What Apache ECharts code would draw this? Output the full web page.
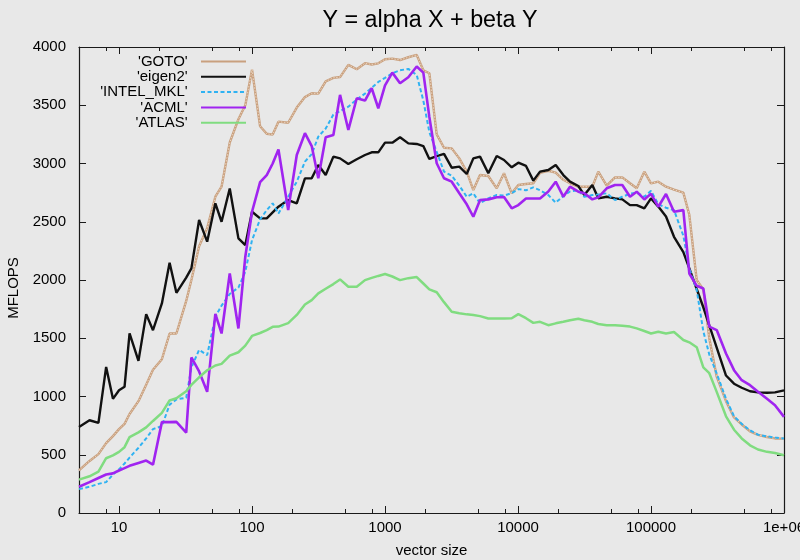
<!DOCTYPE html>
<html><head><meta charset="utf-8">
<script src="https://cdn.jsdelivr.net/npm/echarts@6/dist/echarts.min.js"></script>
<style>html,body{margin:0;padding:0;background:#e8e8e8}#c{width:800px;height:560px}</style>
</head><body><div id="c"></div>
<script>
const sizes = [5,6,7,8,9,10,11,12,14,16,18,21,24,27,32,35,40,46,53,59,68,79,89,100,115,129,143,158,187,217,250,281,315,358,409,459,530,613,707,794,890,1000,1135,1297,1497,1731,1941,2154,2447,2777,3173,3619,4115,4613,5180,5979,6916,7847,8968,10053,11486,13032,14637,16896,19206,21910,24604,28406,31516,36197,40163,46451,53621,60844,69530,78070,89048,100000,113470,129650,148910,175030,194100,220580,247310,274350,311890,366380,420950,480840,555140,637560,745130,855590,1000000];

const gotoVals = [366,447,505,600,660,720,765,850,960,1100,1230,1320,1541,1541,1820,2000,2290,2445,2715,2801,3180,3380,3500,3806,3320,3255,3248,3359,3350,3480,3570,3603,3600,3705,3735,3742,3846,3809,3861,3850,3860,3895,3900,3888,3912,3932,3800,3775,3250,3135,3130,3044,2930,2772,2901,2893,2787,2916,2744,2815,2824,2830,2920,2938,2921,2860,2830,2801,2801,2801,2930,2810,2880,2881,2830,2787,2930,2830,2844,2801,2775,2750,2560,2000,1920,1500,1170,960,820,760,700,670,652,640,638];

const eigen2Vals = [739,796,773,1254,980,1054,1083,1541,1306,1707,1569,1799,2148,1890,2020,2100,2515,2329,2658,2500,2786,2357,2300,2586,2529,2529,2580,2629,2686,2658,2872,2873,2987,2901,3059,3044,2996,3036,3073,3096,3096,3179,3179,3225,3173,3168,3150,3039,3064,3082,2964,2973,2910,3044,3059,2916,3064,3030,2967,3007,2979,2853,2930,2944,2987,2901,2844,2807,2729,2816,2701,2715,2701,2692,2643,2643,2615,2701,2630,2545,2371,2240,2100,1923,1766,1610,1420,1180,1110,1075,1045,1035,1032,1035,1052];

const mklVals = [205,225,250,265,330,375,425,475,560,640,720,745,930,975,990,1250,1400,1355,1684,1780,1880,1935,2071,2343,2520,2600,2658,2570,2715,2844,3016,3080,3231,3300,3420,3450,3488,3550,3600,3650,3700,3735,3775,3800,3812,3760,3540,3270,3100,2930,2895,2810,2715,2744,2658,2701,2730,2725,2745,2780,2770,2795,2770,2729,2664,2720,2760,2770,2715,2729,2735,2744,2686,2715,2740,2750,2715,2765,2650,2620,2600,2380,2100,1915,1560,1360,1197,980,830,765,710,672,658,648,639];

const acmlVals = [225,265,300,330,340,365,385,405,430,450,415,780,780,782,690,1335,1215,1040,1710,1541,2056,1584,2200,2586,2840,2901,3000,3120,2601,3073,3260,3150,2873,3225,3245,3589,3288,3560,3540,3646,3474,3670,3780,3689,3740,3832,3780,3400,3002,2873,2844,2744,2650,2543,2686,2692,2710,2712,2615,2643,2700,2700,2700,2760,2844,2715,2801,2758,2744,2692,2710,2787,2815,2815,2715,2758,2692,2740,2629,2738,2586,2600,2056,1950,1927,1600,1570,1369,1226,1140,1097,1040,980,925,825];

const atlasVals = [286,315,355,470,494,525,565,651,692,735,790,860,966,985,1045,1100,1165,1225,1266,1280,1351,1380,1437,1520,1545,1570,1598,1600,1630,1700,1790,1827,1885,1925,1965,2005,1942,1942,1999,2018,2035,2051,2030,1999,2016,2025,1970,1920,1895,1810,1727,1715,1705,1700,1690,1670,1670,1670,1672,1707,1672,1632,1641,1612,1628,1641,1655,1668,1655,1641,1622,1612,1612,1608,1600,1585,1562,1541,1555,1541,1553,1485,1465,1423,1250,1200,1040,830,715,640,581,545,525,515,495];

const seriesNames = ["'GOTO'", "'eigen2'", "'INTEL_MKL'", "'ACML'", "'ATLAS'"];
const xMajorTicks = [10, 100, 1000, 10000, 100000, 1000000];
const xMinorTicks = [8, 20, 50, 80, 200, 500, 800, 2000, 5000, 8000, 20000, 50000, 80000, 200000, 500000, 800000];

const FONT = '"Liberation Sans", Arial, Helvetica, sans-serif';
function pairs(vals) { return sizes.map((s, i) => [s, vals[i]]); }
function xFmt(v) { const r = Math.round(v); return r === 1000000 ? '1e+06' : String(r); }

const AXC = '#1a1a1a';
function xAxisDef(pos, ticks, len, showLine, showLabel) {
  return {
    type: 'log', logBase: 10, min: 5, max: 1000000, gridIndex: 0, position: pos,
    axisLine: { show: showLine, lineStyle: { color: AXC, width: 1.2 } },
    axisTick: { show: true, inside: true, length: len, customValues: ticks, lineStyle: { color: AXC, width: 1 } },
    axisLabel: showLabel ? { show: true, customValues: xMajorTicks, formatter: xFmt, color: '#000', fontSize: 15, fontFamily: FONT, margin: 7 } : { show: false },
    splitLine: { show: false }, minorTick: { show: false }
  };
}

const chart = echarts.init(document.getElementById('c'), null, { renderer: 'canvas' });
const lineBase = { type: 'line', symbol: 'none', showSymbol: false, xAxisIndex: 0, yAxisIndex: 0, animation: false, silent: true, clip: true };

const option = {
  backgroundColor: '#e8e8e8',
  animation: false,
  textStyle: { fontFamily: FONT },
  title: {
    text: 'Y = alpha X + beta Y', left: 425, top: 4, textAlign: 'center',
    textStyle: { fontSize: 23.3, fontWeight: 'normal', color: '#000', fontFamily: FONT }
  },
  graphic: [{
    type: 'text', x: 14, y: 288, rotation: Math.PI / 2, silent: true,
    style: { text: 'MFLOPS', align: 'center', verticalAlign: 'middle', fill: '#000', font: '15px ' + FONT }
  }],
  grid: { left: 79, right: 16, top: 47, bottom: 47, containLabel: false, outerBoundsMode: 'none' },
  legend: {
    data: seriesNames, orient: 'vertical', right: 553, top: 54, align: 'right',
    itemWidth: 45, itemHeight: 10, itemGap: 0.3, padding: 0, selectedMode: false,
    formatter: n => n + '  ',
    itemStyle: { opacity: 0 },
    textStyle: { fontSize: 15, color: '#000', fontFamily: FONT, lineHeight: 15 }
  },
  xAxis: [
    Object.assign(xAxisDef('bottom', xMajorTicks, 7, true, true), {
      name: 'vector size', nameLocation: 'middle', nameGap: 30,
      nameTextStyle: { fontSize: 15, color: '#000', fontFamily: FONT }
    }),
    xAxisDef('bottom', xMinorTicks, 4, false, false),
    xAxisDef('top', xMajorTicks, 7, true, false),
    xAxisDef('top', xMinorTicks, 4, false, false)
  ],
  yAxis: [
    {
      type: 'value', min: 0, max: 4000, interval: 500, position: 'left',
      axisLine: { show: true, lineStyle: { color: AXC, width: 1.2 } },
      axisTick: { show: true, inside: true, length: 7, lineStyle: { color: AXC } },
      axisLabel: { color: '#000', fontSize: 15, fontFamily: FONT, margin: 13, formatter: v => String(v) },
      splitLine: { show: false }
    },
    {
      type: 'value', min: 0, max: 4000, interval: 500, position: 'right',
      axisLine: { show: true, lineStyle: { color: AXC, width: 1.2 } },
      axisTick: { show: true, inside: true, length: 7, lineStyle: { color: AXC } },
      axisLabel: { show: false }, splitLine: { show: false }
    }
  ],
  series: [
    Object.assign({}, lineBase, { name: seriesNames[0], data: pairs(gotoVals), z: 2,
      lineStyle: { color: '#c9a07e', width: 2.4 }, itemStyle: { color: '#c9a07e' } }),
    Object.assign({}, lineBase, { name: 'goto-core', data: pairs(gotoVals), z: 3,
      lineStyle: { color: '#f2e2d2', width: 0.8, type: [1.5, 1.5] }, itemStyle: { color: '#f2e2d2' } }),
    Object.assign({}, lineBase, { name: seriesNames[1], data: pairs(eigen2Vals), z: 4,
      lineStyle: { color: '#111111', width: 2.4 }, itemStyle: { color: '#111111' } }),
    Object.assign({}, lineBase, { name: seriesNames[2], data: pairs(mklVals), z: 5,
      lineStyle: { color: '#2fb2f2', width: 2, type: [4, 2.5] }, itemStyle: { color: '#2fb2f2' } }),
    Object.assign({}, lineBase, { name: seriesNames[3], data: pairs(acmlVals), z: 6,
      lineStyle: { color: '#a024f0', width: 2.6 }, itemStyle: { color: '#a024f0' } }),
    Object.assign({}, lineBase, { name: seriesNames[4], data: pairs(atlasVals), z: 7,
      lineStyle: { color: '#80dc80', width: 2.5 }, itemStyle: { color: '#80dc80' } })
  ]
};
chart.setOption(option);
</script>
</body></html>
